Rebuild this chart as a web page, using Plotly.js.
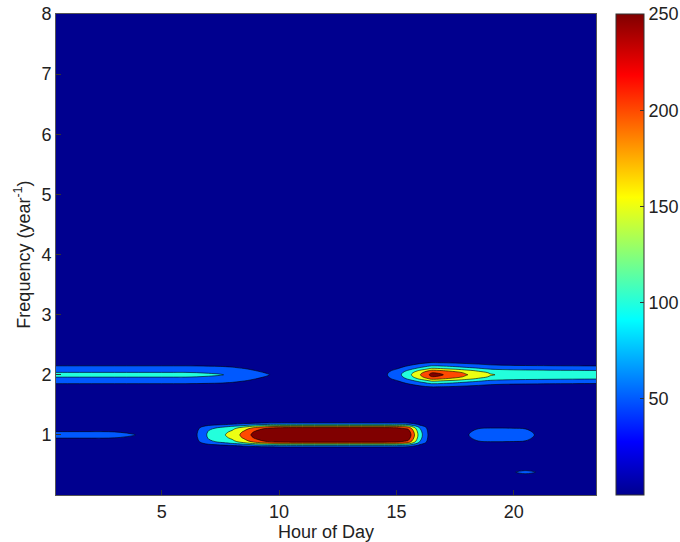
<!DOCTYPE html>
<html><head><meta charset="utf-8">
<script src="https://cdn.plot.ly/plotly-3.0.1.min.js"></script>
<style>html,body{margin:0;padding:0;background:#fff}#chart{width:680px;height:542px}</style>
</head><body><div id="chart"></div>
<script>
// Hour of day (x) sample points
const hours = [0.5,1,1.5,2,2.5,3,3.5,4,4.5,5,5.5,6,6.5,7,7.5,8,8.5,9,9.5,10,10.5,11,11.5,12,12.5,13,13.5,14,14.5,15,15.5,16,16.5,17,17.5,18,18.5,19,19.5,20,20.5,21,21.5,22,22.5,23,23.5];
// Frequency (1/year) sample rows
const freqs = [0,0.15,0.30,0.35,0.38,0.41,0.46,0.60,
  0.70,0.75,0.80,0.825,0.845,0.86,0.88,0.90,0.95,1.00,1.05,1.10,1.12,1.14,1.155,1.175,1.20,1.25,1.30,
  1.50,
  1.70,1.75,1.80,1.85,1.87,1.90,1.93,1.965,2.00,2.035,2.07,2.10,2.13,2.15,2.20,2.25,2.30,
  2.60,4.00,6.00,8.00];

// Peak height per hour, annual (1/yr) line
const amp1 = [51,51,51,51,51,50.5,49.5,47.5,40,35,32,35,47,108,135,165,215,270,310,325,330,330,330,330,330,330,330,330,330,325,290,120,15,8,15,46,58,61,61,60,57,45,30,20,15,15,20];
// Peak height per hour, semi-annual (2/yr) line, morning part
const amp2L = [112,112,112,112,112,112,112,112,112,112,112,112,110,106,101,90,75,62,51,35,20,10,0,0,0,0,0,0,0,0,0,0,0,0,0,0,0,0,0,0,0,0,0,0,0,0,0];
// Peak height per hour, semi-annual (2/yr) line, evening part
const amp2R = [0,0,0,0,0,0,0,0,0,0,0,0,0,0,0,0,0,0,0,0,0,0,0,0,0,0,8,20,40,75,130,195,262,248,228,200,176,152,142,137,134,132,130,128,127,126,125];
// Small spot near 0.38/yr
const amp3 = [0,0,0,0,0,0,0,0,0,0,0,0,0,0,0,0,0,0,0,0,0,0,0,0,0,0,0,0,0,0,0,0,0,0,0,0,0,0,0,46,58,46,0,0,0,0,0];

// Relative line shapes across frequency rows
const prof1 = [0,0,0,0,0,0,0,0,
  0,0.03,0.15,0.30,0.455,0.61,0.76,0.84,0.95,1.0,0.95,0.84,0.76,0.61,0.455,0.30,0.15,0.03,0,
  0,
  0,0,0,0,0,0,0,0,0,0,0,0,0,0,0,0,0,
  0,0,0,0];
const prof2L = [0,0,0,0,0,0,0,0,
  0,0,0,0,0,0,0,0,0,0,0,0,0,0,0,0,0,0,0,
  0,
  0,0.04,0.15,0.42,0.52,0.66,0.77,0.89,1.0,0.89,0.77,0.66,0.52,0.42,0.15,0.04,0,
  0,0,0,0];
const prof2R = [0,0,0,0,0,0,0,0,
  0,0,0,0,0,0,0,0,0,0,0,0,0,0,0,0,0,0,0,
  0,
  0.02,0.07,0.19,0.37,0.45,0.60,0.79,0.94,1.0,0.94,0.79,0.60,0.45,0.37,0.19,0.07,0.02,
  0,0,0,0];
const prof3 = [0,0,0,0.8,1.0,0.8,0,0,
  0,0,0,0,0,0,0,0,0,0,0,0,0,0,0,0,0,0,0,
  0,
  0,0,0,0,0,0,0,0,0,0,0,0,0,0,0,0,0,
  0,0,0,0];
const floorLevel = 2;

const xTicks = [5,10,15,20];
const yTicks = [1,2,3,4,5,6,7,8];
const cTicks = [50,100,150,200,250];

const z = freqs.map((f,i)=>hours.map((h,j)=>
  floorLevel + amp1[j]*prof1[i] + amp2L[j]*prof2L[i] + amp2R[j]*prof2R[i] + amp3[j]*prof3[i]));

const jet = [[0,'rgb(0,0,143)'],[0.111,'rgb(0,0,255)'],[0.365,'rgb(0,255,255)'],
             [0.619,'rgb(255,255,0)'],[0.873,'rgb(255,0,0)'],[1,'rgb(128,0,0)']];
const FONT = 'Liberation Sans, Arial, Helvetica, sans-serif';

const traces = [
  {type:'heatmap', x:hours, y:freqs, z:z, zmin:0, zmax:250, colorscale:jet, hoverinfo:'skip',
   colorbar:{thickness:28, thicknessmode:'pixels', len:1, lenmode:'fraction', x:1.037, xanchor:'left', xpad:0,
     y:0.5, yanchor:'middle', ypad:0, outlinewidth:1, outlinecolor:'#333',
     tickvals:cTicks, ticks:'inside', ticklen:4, tickcolor:'#333',
     tickfont:{family:FONT, size:18, color:'#222'}}},
  {type:'contour', x:hours, y:freqs, z:z, autocontour:false,
   contours:{start:50, end:250, size:50, coloring:'fill'},
   colorscale:jet, showscale:false, line:{color:'#000', width:0.6, smoothing:1}, hoverinfo:'skip'}
];

const layout = {
  width:680, height:542, margin:{l:56, r:84, t:14, b:47, autoexpand:false},
  paper_bgcolor:'#fff', plot_bgcolor:'#00008f', showlegend:false,
  font:{family:FONT, size:18, color:'#222'},
  xaxis:{range:[0.5,23.5], tickvals:xTicks, ticks:'inside', ticklen:5, tickcolor:'#333',
    showline:true, linecolor:'#555', linewidth:1, mirror:true, showgrid:false, zeroline:false,
    tickfont:{family:FONT, size:18, color:'#222'},
    title:{text:'Hour of Day', font:{family:FONT, size:18, color:'#222'}, standoff:4}},
  yaxis:{range:[0,8], tickvals:yTicks, ticks:'inside', ticklen:5, tickcolor:'#333',
    showline:true, linecolor:'#555', linewidth:1, mirror:true, showgrid:false, zeroline:false,
    tickfont:{family:FONT, size:18, color:'#222'},
    title:{text:'Frequency (year<sup>-1</sup>)', font:{family:FONT, size:18, color:'#222'}, standoff:6}}
};
Plotly.newPlot('chart', traces, layout, {displayModeBar:false, staticPlot:true});
</script></body></html>
